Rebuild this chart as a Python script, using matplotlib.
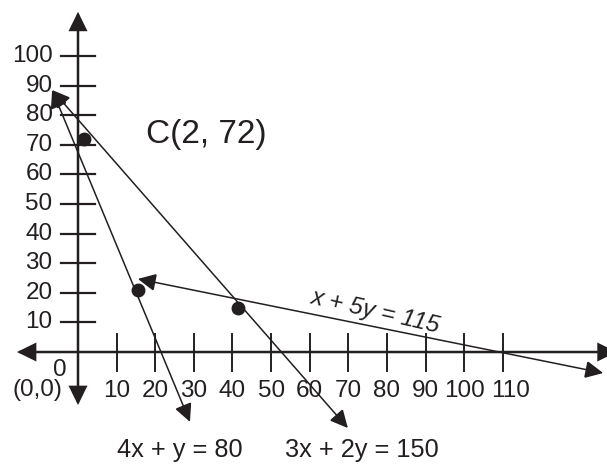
import matplotlib
matplotlib.use("Agg")
import matplotlib.pyplot as plt

plt.rcParams['font.family'] = ['Liberation Sans', 'DejaVu Sans']

# axis ticks
x_ticks = [10, 20, 30, 40, 50, 60, 70, 80, 90, 100, 110]
y_ticks = [10, 20, 30, 40, 50, 60, 70, 80, 90, 100]

# constraint lines as drawn (start / end in data units)
line_a_x = [-6.7, 29.0]     # 4x + y = 80
line_a_y = [88.5, -23.6]
line_b_x = [-6.7, 69.9]     # 3x + 2y = 150
line_b_y = [88.5, -25.7]
line_c_x = [15.5, 136.0]    # x + 5y = 115
line_c_y = [24.7, -7.1]

# corner points as drawn
vertex_x = [1.5, 15.5, 41.5]
vertex_y = [72, 21, 15]

# axis extents
x_axis = [-15.8, 139.5]
y_axis = [-17.9, 114.9]

fig = plt.figure(figsize=(6.07, 4.66), dpi=100)
ax = fig.add_axes([0, 0, 1, 1])
ax.set_xlim(-20.2, 137.0)
ax.set_ylim(-38.5, 118.9)
ax.axis("off")

ink = "#231f20"


def arrow_line(x0, y0, x1, y1, lw, style="<|-|>"):
    ax.annotate("", xy=(x1, y1), xytext=(x0, y0), annotation_clip=False,
                arrowprops=dict(arrowstyle=style + ",head_length=0.55,head_width=0.27",
                                mutation_scale=20, lw=lw, color=ink,
                                shrinkA=0, shrinkB=0, joinstyle="miter"))


# axes
arrow_line(x_axis[0], 0, x_axis[1], 0, 1.8)
arrow_line(0, y_axis[0], 0, y_axis[1], 1.8)

# ticks
for t in x_ticks:
    ax.plot([t, t], [-6.4, 6.1], color=ink, lw=1.4)
    # the last label sits a little right of its tick in the original
    lx = t + 2 if t == 110 else t
    ax.text(lx, -13.2, str(t), ha="center", va="center", fontsize=17.5, color=ink)
for t in y_ticks:
    ax.plot([-4.5, 4.5], [t, t], color=ink, lw=1.6)
    ax.text(-6.6, t, str(t), ha="right", va="center", fontsize=17.5, color=ink)

ax.text(-4.7, -6.1, "0", ha="center", va="center", fontsize=17.5, color=ink)
ax.text(-10.6, -12.8, "(0,0)", ha="center", va="center", fontsize=17.5, color=ink)

# constraint lines
arrow_line(line_a_x[1], line_a_y[1], line_a_x[0], line_a_y[0], 1.1)
arrow_line(line_b_x[1], line_b_y[1], line_b_x[0], line_b_y[0], 1.1)
arrow_line(line_c_x[1], line_c_y[1], line_c_x[0], line_c_y[0], 1.1)

# vertices
ax.plot(vertex_x, vertex_y, "o", color=ink, markersize=9, zorder=5)

# labels
ax.text(33.2, 73.6, "C(2, 72)", ha="center", va="center", fontsize=24, color=ink)
ax.text(26.4, -33.1, "4x + y = 80", ha="center", va="center", fontsize=18.3, color=ink)
ax.text(73.6, -33.1, "3x + 2y = 150", ha="center", va="center", fontsize=18.3, color=ink)
ax.text(77.2, 13.5, "x + 5y = 115", ha="center", va="center", fontsize=17.5,
        style="italic", rotation=-13, rotation_mode="anchor", color=ink)

fig.savefig("out.png", dpi=100)
